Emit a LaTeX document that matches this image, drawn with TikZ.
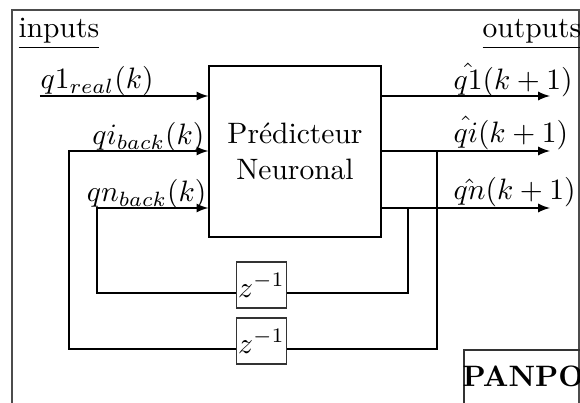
\documentclass[tikz,border=0pt]{standalone}
\usepackage{amsmath}
\tikzset{
  lbl/.style={inner sep=0pt},
  dly/.style={draw,black!80,text=black,inner sep=0.5pt,minimum width=15.9pt,minimum height=15.6pt},
  sig/.style={-latex},
}

\begin{document}
\begin{tikzpicture}[x=0.0119cm,y=-0.0119cm]
                \useasboundingbox (0,0) rectangle (580,403);
                \clip (0,0) rectangle (580,403);
                \draw[black!70] (12,10) rectangle (579,440);
                \node[lbl,anchor=base west] (inp) at (18,38) {\underline{inputs}};
                \node[lbl,anchor=base west] (outp) at (482,38) {\underline{outputs}};
                % predictor
                \node[draw,align=center,minimum width=58.3pt,minimum height=57.9pt] (pred) at (295,151.5) {Prédicteur\\Neuronal};
                \node[dly] (zn) at (261.5,285) {$z^{-1}$};
                \node[dly] (zi) at (261.5,341) {$z^{-1}$};
                \coordinate (q1) at (40,96);
                \coordinate (qi) at (69,151);
                \coordinate (qn) at (97,208);
                \coordinate (o1) at (550,96);
                \coordinate (oi) at (550,151);
                \coordinate (on) at (550,208);
                \coordinate (ti) at (437,151);
                \coordinate (tn) at (408,208);
                \draw[sig] (q1) -- (q1 -| pred.west);
                \draw[sig] (o1 -| pred.east) -- (o1);
                \draw[sig] (oi -| pred.east) -- (oi);
                \draw[sig] (on -| pred.east) -- (on);
                % delay loops
                \draw (tn) |- ([yshift=-2.7pt]zn.east);
                \draw[sig] ([yshift=-2.7pt]zn.west) -| (qn) -- (qn -| pred.west);
                \draw (ti) |- ([yshift=-2.7pt]zi.east);
                \draw[sig] ([yshift=-2.7pt]zi.west) -| (qi) -- (qi -| pred.west);
                \node[lbl,anchor=base west] (l1) at (40,89) {\(q1_{real}(k)\)};
                \node[lbl,anchor=base east] (li) at (205,145) {\(qi_{back}(k)\)};
                \node[lbl,anchor=base east] (ln) at (207,202) {\(qn_{back}(k)\)};
                \node[lbl,anchor=base west] (r1) at (453,90) {\(\hat{q1}(k+1)\)};
                \node[lbl,anchor=base west] (ri) at (453,143) {\(\hat{qi}(k+1)\)};
                \node[lbl,anchor=base west] (rn) at (453,200) {\(\hat{qn}(k+1)\)};
                \draw[black!80] (464,350) rectangle (620,440);
                \node[lbl,anchor=base west] (panpo) at (462,387) {\textbf{PANPO}};
            \end{tikzpicture}
\end{document}
